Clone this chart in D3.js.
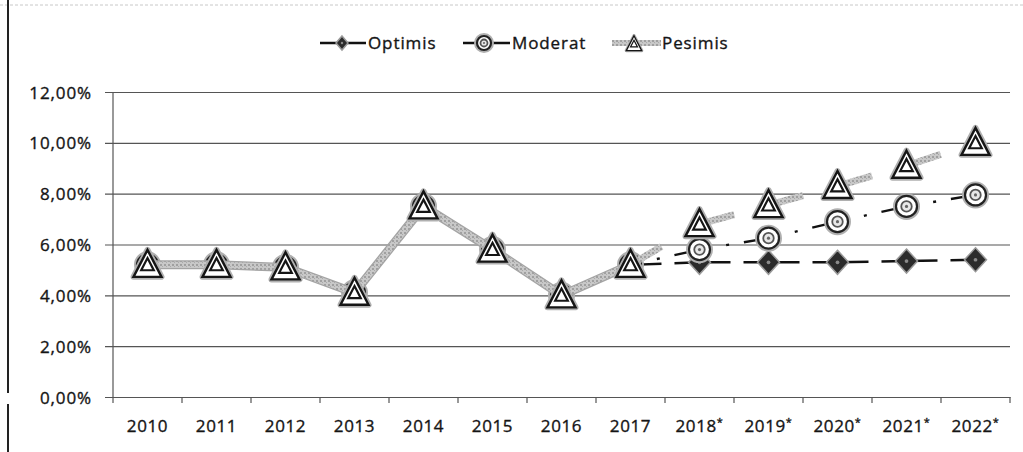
<!DOCTYPE html>
<html>
<head>
<meta charset="utf-8">
<script src="https://cdn.jsdelivr.net/npm/d3@7/dist/d3.min.js"></script>
<style>
  html, body { margin: 0; padding: 0; background: #fff; }
  svg { display: block; }
  text { font-family: "Open Sans", "Liberation Sans", sans-serif; fill: #151515; stroke: #151515; stroke-width: 0.35px; }
</style>
</head>
<body>
<svg id="chart" width="1023" height="452"></svg>
<script>
// Growth rate scenarios, 2010–2017 actual, 2018–2022 projected (in %)
const years = ["2010","2011","2012","2013","2014","2015","2016","2017","2018","2019","2020","2021","2022"];
const yearLabels = ["2010","2011","2012","2013","2014","2015","2016","2017","2018*","2019*","2020*","2021*","2022*"];
const optimis = [5.2, 5.2, 5.1, 4.1, 7.5, 5.8, 4.0, 5.2, 5.3, 5.3, 5.3, 5.35, 5.4];
const moderat = [5.2, 5.2, 5.1, 4.1, 7.5, 5.8, 4.0, 5.2, 5.8, 6.25, 6.9, 7.5, 7.95];
const pesimis = [5.2, 5.2, 5.1, 4.1, 7.5, 5.8, 4.0, 5.2, 6.8, 7.55, 8.3, 9.1, 10.0];
const yTicks = [0, 2, 4, 6, 8, 10, 12];
const firstForecast = 8; // index of 2018

const svg = d3.select("#chart");
const plotLeft = 113, plotRight = 1010, plotTop = 92, plotBottom = 397;

const x = d3.scaleBand().domain(years).range([plotLeft, plotRight]).padding(0);
const y = d3.scaleLinear().domain([0, 12]).range([plotBottom, plotTop]);
const cx = d => x(d) + x.bandwidth() / 2;

const pctFmt = d3.formatLocale({ decimal: ",", thousands: ".", grouping: [3], currency: ["", ""] }).format(".2f");

// speckled grey texture for the pessimistic line
const defs = svg.append("defs");
const pat = defs.append("pattern").attr("id", "tex").attr("patternUnits", "userSpaceOnUse")
  .attr("width", 4).attr("height", 4);
pat.append("rect").attr("width", 4).attr("height", 4).attr("fill", "#c8c8c8");
pat.append("rect").attr("x", 0).attr("y", 0).attr("width", 2).attr("height", 2).attr("fill", "#a0a0a0");
pat.append("rect").attr("x", 2).attr("y", 2).attr("width", 1).attr("height", 1).attr("fill", "#aaaaaa");

// outer frame fragments
svg.append("line").attr("x1", 0).attr("x2", 1023).attr("y1", 5).attr("y2", 5)
  .attr("stroke", "#c8c8c8").attr("stroke-width", 1).attr("stroke-dasharray", "3,2");
svg.append("line").attr("x1", 8).attr("x2", 8).attr("y1", 0).attr("y2", 393)
  .attr("stroke", "#222").attr("stroke-width", 2);
svg.append("line").attr("x1", 8).attr("x2", 8).attr("y1", 404).attr("y2", 452)
  .attr("stroke", "#222").attr("stroke-width", 2);

// horizontal gridlines + y labels
const yAxis = d3.axisLeft(y).tickValues(yTicks).tickSize(-(plotRight - plotLeft)).tickSizeOuter(0)
  .tickFormat(d => pctFmt(d) + "%");
const gy = svg.append("g").attr("transform", `translate(${plotLeft},0)`).call(yAxis);
gy.select(".domain").remove();
gy.selectAll(".tick line").attr("stroke", "#555").attr("stroke-width", 1.2).attr("x1", -8);
gy.selectAll(".tick text").attr("x", -21).attr("dy", "0.36em")
  .style("font-size", "17px").style("letter-spacing", "0.9px").attr("fill", "#151515");

// vertical axis line
svg.append("line").attr("x1", plotLeft).attr("x2", plotLeft).attr("y1", plotTop).attr("y2", plotBottom)
  .attr("stroke", "#555").attr("stroke-width", 1.2);

// category axis
const xAxis = d3.axisBottom(x).tickSize(0).tickFormat("");
const gx = svg.append("g").attr("transform", `translate(0,${plotBottom})`).call(xAxis);
gx.select(".domain").attr("stroke", "#555").attr("stroke-width", 1.2);
gx.selectAll(".tick").remove();
const bounds = years.map(d => x(d)).concat([plotRight]);
gx.selectAll("line.sep").data(bounds).enter().append("line").attr("class", "sep")
  .attr("x1", d => d).attr("x2", d => d).attr("y1", 0).attr("y2", 6)
  .attr("stroke", "#555").attr("stroke-width", 1.2);
const lbl = gx.selectAll("text.lbl").data(years).enter().append("text").attr("class", "lbl")
  .attr("x", d => cx(d)).attr("y", 35).attr("text-anchor", "middle")
  .style("font-size", "17px").style("letter-spacing", "0.6px");
lbl.each(function(d, i) {
  const t = d3.select(this);
  const s = yearLabels[i];
  t.append("tspan").text(s.replace("*", ""));
  if (s.endsWith("*")) t.append("tspan").attr("dy", -6).style("font-size", "11px").text("*");
});

// series helpers
const pts = vals => years.map((d, i) => [cx(d), y(vals[i])]);
const lineGen = d3.line();

function drawSeries(vals, histStyle, fcStyle) {
  const p = pts(vals);
  const g = svg.append("g");
  // actual part
  histStyle(g.append("path").attr("d", lineGen(p.slice(0, firstForecast))).attr("fill", "none"));
  // projected part, one segment at a time so each dash pattern restarts at a point
  for (let i = firstForecast - 1; i < p.length - 1; i++) {
    fcStyle(g.append("path").attr("d", lineGen([p[i], p[i + 1]])).attr("fill", "none"));
  }
  return p;
}

function diamond(g, x0, y0, w, h) {
  g.append("path").attr("d", `M${x0},${y0 - h}L${x0 + w},${y0}L${x0},${y0 + h}L${x0 - w},${y0}Z`)
    .attr("fill", "#2b2b2b").attr("stroke", "#9a9a9a").attr("stroke-width", 1.5);
  g.append("circle").attr("cx", x0).attr("cy", y0).attr("r", Math.max(1.2, w * 0.17)).attr("fill", "#8a8a8a");
}
function ringMarker(g, x0, y0, r) {
  g.append("circle").attr("cx", x0).attr("cy", y0).attr("r", r + 1.5)
    .attr("fill", "#fff").attr("stroke", "#b0b0b0").attr("stroke-width", 3);
  g.append("circle").attr("cx", x0).attr("cy", y0).attr("r", r)
    .attr("fill", "#fff").attr("stroke", "#222").attr("stroke-width", 2.2);
  g.append("circle").attr("cx", x0).attr("cy", y0).attr("r", r * 0.5)
    .attr("fill", "#e8e8e8").attr("stroke", "#555").attr("stroke-width", 1.8);
  g.append("circle").attr("cx", x0).attr("cy", y0).attr("r", r * 0.15).attr("fill", "#666");
}
function triMarker(g, x0, y0, s) {
  const tri = k => `M${x0},${y0 - 15 * k}L${x0 + 14 * k},${y0 + 12 * k}L${x0 - 14 * k},${y0 + 12 * k}Z`;
  g.append("path").attr("d", tri(s)).attr("fill", "#fff").attr("stroke", "#b0b0b0")
    .attr("stroke-width", 6 * s).attr("stroke-linejoin", "round");
  g.append("path").attr("d", tri(s)).attr("fill", "#fff").attr("stroke", "#151515")
    .attr("stroke-width", 2.4 * s).attr("stroke-linejoin", "miter");
  g.append("path").attr("d", tri(s * 0.45)).attr("fill", "#fff").attr("stroke", "#151515")
    .attr("stroke-width", 2.2 * s);
}

// Optimis
const pO = drawSeries(optimis,
  s => s.attr("stroke", "#111").attr("stroke-width", 2.2),
  s => s.attr("stroke", "#111").attr("stroke-width", 2.4).attr("stroke-dasharray", "31,13,40"));
const gO = svg.append("g");
pO.forEach(([a, b]) => diamond(gO, a, b, 11, 12));

// Moderat
const pM = drawSeries(moderat,
  s => s.attr("stroke", "#111").attr("stroke-width", 2.2),
  s => s.attr("stroke", "#111").attr("stroke-width", 2.4).attr("stroke-dasharray", "0,27,3,15,60"));
const gM = svg.append("g");
pM.forEach(([a, b]) => ringMarker(gM, a, b, 10.5));

// Pesimis
const pP = drawSeries(pesimis,
  s => { s.attr("stroke", "#a4a4a4").attr("stroke-width", 9).attr("stroke-linejoin", "round");
         const c = s.node().cloneNode(); s.node().parentNode.appendChild(c);
         d3.select(c).attr("stroke", "url(#tex)").attr("stroke-width", 6.5); },
  s => { s.attr("stroke", "url(#tex)").attr("stroke-width", 7).attr("stroke-dasharray", "36,60"); });
const gP = svg.append("g");
pP.forEach(([a, b]) => triMarker(gP, a, b, 1));

// legend
const ly = 43;
const lg = svg.append("g");
lg.append("line").attr("x1", 320).attr("x2", 366).attr("y1", ly).attr("y2", ly).attr("stroke", "#111").attr("stroke-width", 2.6);
diamond(lg, 342, ly, 6, 7);
lg.append("text").attr("x", 368).attr("y", ly).attr("dy", "0.36em").style("font-size", "17px").style("letter-spacing", "0.9px").text("Optimis");

lg.append("line").attr("x1", 463).attr("x2", 510).attr("y1", ly).attr("y2", ly).attr("stroke", "#111").attr("stroke-width", 2.6);
ringMarker(lg, 484, ly, 7);
lg.append("text").attr("x", 512).attr("y", ly).attr("dy", "0.36em").style("font-size", "17px").style("letter-spacing", "0.9px").text("Moderat");

lg.append("line").attr("x1", 612).attr("x2", 661).attr("y1", ly).attr("y2", ly).attr("stroke", "url(#tex)").attr("stroke-width", 6);
triMarker(lg, 634, ly + 1, 0.55);
lg.append("text").attr("x", 662).attr("y", ly).attr("dy", "0.36em").style("font-size", "17px").style("letter-spacing", "0.9px").text("Pesimis");
</script>
</body>
</html>
